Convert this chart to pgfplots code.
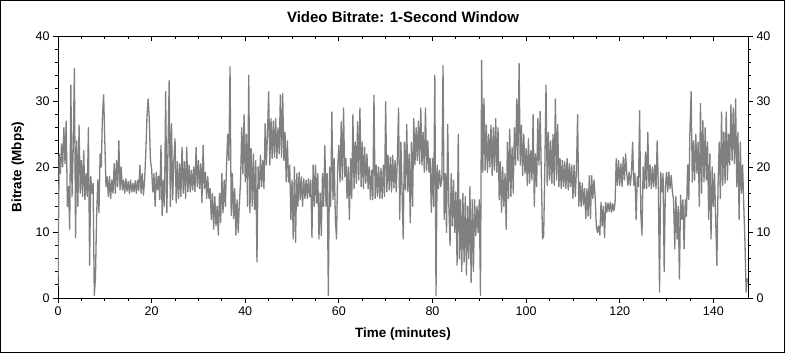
\documentclass[border=0pt]{standalone}
\usepackage{fontspec}
\setmainfont{Liberation Sans}
\usepackage{pgfplots}
\pgfplotsset{compat=1.18}
\begin{document}
\begin{tikzpicture}
\useasboundingbox (-58pt,-55pt) rectangle (727pt,298pt);
\draw[line width=1pt] (-57.5pt,-54.5pt) rectangle (726.5pt,297.5pt);
\pgfplotsset{common/.style={at={(0pt,0pt)}, anchor=south west, scale only axis,
  width=690pt, height=262pt, xmin=0, xmax=147.4, ymin=0, ymax=40,
  xtick={0,20,...,140}, ytick={0,10,...,40}, minor x tick num=3, minor y tick num=4,
  major tick length=5pt, minor tick length=3pt,
  ticklabel style={font=\fontsize{12.5}{14}\selectfont},
  /pgf/number format/assume math mode=true,
  axis line style={line width=0.8pt}, tick style={black, line width=0.8pt}}}
\begin{axis}[common, tick align=outside, xtick pos=bottom, ytick pos=left]
\addplot[color={rgb,255:red,128;green,128;blue,128}, line width=1.3pt, line join=round] coordinates {
(0,1.8)(0.25,22)(0.5,19)(0.75,23.5)
(1,20)(1.25,26)(1.5,20.5)(1.75,27)
(2,14)(2.25,17)(2.5,10.5)(2.75,32.5)
(3,15.5)(3.25,23)(3.5,35)(3.75,9.2)
(4,24)(4.25,14)(4.5,26.4)(4.75,16)
(5,21)(5.25,15.5)(5.5,22.5)(5.75,15)
(6,19)(6.25,15.5)(6.5,26)(6.75,5)
(7,18.6)(7.25,16)(7.5,17.5)(7.75,0.4)
(8,3)(8.25,12.5)(8.5,18)(8.75,13)
(9,22)(9.25,20)(9.5,28)(9.75,31)
(10,24)(10.25,17)(10.5,18.5)(10.75,15.5)
(11,18.6)(11.25,15.2)(11.5,18)(11.75,16)
(12,20.5)(12.25,16)(12.5,21)(12.75,17)
(13,24)(13.25,16.5)(13.5,20)(13.75,16.5)
(14,18)(14.25,16)(14.5,18.2)(14.75,16.3)
(15,17.8)(15.25,16)(15.5,18)(15.75,16.2)
(16,17.5)(16.25,16.2)(16.5,17.9)(16.75,16)
(17,18)(17.25,16.4)(17.5,20.3)(17.75,16)
(18,19)(18.25,15.7)(18.5,18)(18.75,22)
(19,27.5)(19.25,30.4)(19.5,27.4)(19.75,21)
(20,19.7)(20.25,16.2)(20.5,19)(20.75,14)
(21,19.2)(21.25,16.5)(21.5,18.6)(21.75,15)
(22,23.3)(22.25,12.6)(22.5,18)(22.75,14)
(23,31.5)(23.25,13)(23.5,22.8)(23.75,33.2)
(24,14)(24.25,26.6)(24.5,15)(24.75,21)
(25,24.3)(25.25,14.5)(25.5,20.8)(25.75,15.2)
(26,20.5)(26.25,15.5)(26.5,23)(26.75,16)
(27,20.8)(27.25,15.2)(27.5,23)(27.75,16.2)
(28,20.3)(28.25,16.2)(28.5,19.5)(28.75,16.5)
(29,20)(29.25,16.2)(29.5,23)(29.75,17)
(30,21)(30.25,16.7)(30.5,20.5)(30.75,14.5)
(31,23.3)(31.25,16.7)(31.5,19.2)(31.75,15.2)
(32,18.5)(32.25,15.2)(32.5,16.7)(32.75,12)
(33,16)(33.25,10.5)(33.5,15.5)(33.75,11)
(34,14)(34.25,9.6)(34.5,16)(34.75,11.5)
(35,19)(35.25,13)(35.5,18)(35.75,14)
(36,20)(36.25,25)(36.5,21)(36.75,35.3)
(37,12.6)(37.25,19)(37.5,12.1)(37.75,16.7)
(38,9.6)(38.25,15)(38.5,10)(38.75,14.5)
(39,17.7)(39.25,26)(39.5,19)(39.75,28)
(40,17.7)(40.25,25)(40.5,14)(40.75,34)
(41,13)(41.25,22.8)(41.5,14)(41.75,22)
(42,13.5)(42.25,21)(42.5,5.5)(42.75,20)
(43,16.7)(43.25,21.8)(43.5,17)(43.75,21)
(44,16.7)(44.25,26.6)(44.5,20.3)(44.75,25)
(45,31.5)(45.25,20.3)(45.5,27.4)(45.75,21.3)
(46,27)(46.25,21.5)(46.5,27.4)(46.75,21.3)
(47,26)(47.25,22)(47.5,31)(47.75,21.5)
(48,31.2)(48.25,21)(48.5,25.3)(48.75,17.7)
(49,24)(49.25,17.7)(49.5,20.3)(49.75,12)
(50,18)(50.25,9)(50.5,20)(50.75,8.5)
(51,19)(51.25,14)(51.5,19.2)(51.75,15)
(52,18.5)(52.25,14)(52.5,18.2)(52.75,15.2)
(53,18)(53.25,15.2)(53.5,18.2)(53.75,15.5)
(54,18)(54.25,9.2)(54.5,20.3)(54.75,14)
(55,20.3)(55.25,14.5)(55.5,19)(55.75,9)
(56,16)(56.25,9.5)(56.5,19)(56.75,14)
(57,23.3)(57.25,14)(57.5,19)(57.75,0.4)
(58,20)(58.25,14)(58.5,28.4)(58.75,15)
(59,21.3)(59.25,12)(59.5,9)(59.75,20)
(60,23.3)(60.25,17.7)(60.5,26.9)(60.75,18)
(61,29)(61.25,18.5)(61.5,21.3)(61.75,15.2)
(62,20)(62.25,12)(62.5,21.3)(62.75,15.2)
(63,28)(63.25,16.7)(63.5,23.8)(63.75,17.5)
(64,26.9)(64.25,18)(64.5,29)(64.75,17)
(65,23.8)(65.25,16.7)(65.5,23)(65.75,17.5)
(66,22)(66.25,16.7)(66.5,20)(66.75,15)
(67,19.5)(67.25,15)(67.5,31)(67.75,15.2)
(68,20.3)(68.25,15.5)(68.5,20)(68.75,15.2)
(69,19.8)(69.25,15.2)(69.5,20.3)(69.75,15.5)
(70,30)(70.25,16.2)(70.5,21.8)(70.75,16.5)
(71,21.5)(71.25,16.2)(71.5,21.8)(71.75,16.8)
(72,21)(72.25,16.2)(72.5,21.5)(72.75,29)
(73,12)(73.25,23.8)(73.5,16.2)(73.75,9)
(74,23.8)(74.25,16.5)(74.5,26.5)(74.75,16.2)
(75,22)(75.25,11.5)(75.5,23.8)(75.75,14)
(76,27.4)(76.25,20.3)(76.5,26)(76.75,21)
(77,27)(77.25,20.5)(77.5,29)(77.75,20.3)
(78,25.3)(78.25,19.2)(78.5,29)(78.75,19.5)
(79,24)(79.25,19.2)(79.5,21.3)(79.75,13.1)
(80,21.3)(80.25,14)(80.5,34)(80.75,0.4)
(81,20.3)(81.25,16.7)(81.5,19.5)(81.75,17)
(82,18)(82.25,35.5)(82.5,12)(82.75,19)
(83,10)(83.25,26.5)(83.5,14)(83.75,8)
(84,19)(84.25,11)(84.5,18)(84.75,10)
(85,16.2)(85.25,5)(85.5,25)(85.75,6)
(86,15)(86.25,4)(86.5,16)(86.75,5.5)
(87,15.5)(87.25,3.5)(87.5,14)(87.75,6)
(88,17)(88.25,2.4)(88.5,15)(88.75,4)
(89,15)(89.25,9.5)(89.5,14)(89.75,10)
(90,15)(90.25,0.4)(90.5,36.3)(90.75,19.2)
(91,30.4)(91.25,19.5)(91.5,26.4)(91.75,19.2)
(92,25)(92.25,20)(92.5,26.4)(92.75,18.7)
(93,26)(93.25,19.5)(93.5,27.4)(93.75,19.2)
(94,26)(94.25,15)(94.5,20.8)(94.75,13.1)
(95,20)(95.25,14)(95.5,19)(95.75,10.5)
(96,23.8)(96.25,15.2)(96.5,25.8)(96.75,15.5)
(97,23)(97.25,16)(97.5,26)(97.75,20.3)
(98,30.4)(98.25,21)(98.5,35.8)(98.75,20.3)
(99,26.4)(99.25,18.7)(99.5,25)(99.75,19)
(100,22.8)(100.25,17.2)(100.5,24.3)(100.75,17.5)
(101,22.5)(101.25,18)(101.5,28)(101.75,14)
(102,22)(102.25,17)(102.5,27.4)(102.75,20.3)
(103,28.5)(103.25,19)(103.5,9)(103.75,9.5)
(104,20)(104.25,32.5)(104.5,17.2)(104.75,25.3)
(105,18)(105.25,24)(105.5,17.5)(105.75,25)
(106,17.2)(106.25,30.4)(106.5,18)(106.75,26.5)
(107,17)(107.25,21.3)(107.5,16.7)(107.75,21)
(108,17)(108.25,20.8)(108.5,16.7)(108.75,21.3)
(109,16.5)(109.25,20.5)(109.5,17)(109.75,20.3)
(110,15.2)(110.25,20.3)(110.5,15.5)(110.75,19.5)
(111,28)(111.25,14)(111.5,17.7)(111.75,14)
(112,17.5)(112.25,14.2)(112.5,16.7)(112.75,12.1)
(113,16.7)(113.25,12.5)(113.5,18.7)(113.75,12.1)
(114,18.7)(114.25,15.2)(114.5,18)(114.75,15.5)
(115,11)(115.25,10)(115.5,11)(115.75,9.6)
(116,14.6)(116.25,11)(116.5,14)(116.75,9.2)
(117,14.6)(117.25,13.1)(117.5,14.5)(117.75,13.2)
(118,14.6)(118.25,13.1)(118.5,14.4)(118.75,13.3)
(119,14.5)(119.25,21.3)(119.5,17.2)(119.75,21)
(120,17.2)(120.25,20.5)(120.5,17)(120.75,21.5)
(121,18)(121.25,22)(121.5,19)(121.75,17.2)
(122,19.2)(122.25,17.2)(122.5,19)(122.75,23.8)
(123,17.2)(123.25,19)(123.5,12)(123.75,18.5)
(124,17)(124.25,28.6)(124.5,13)(124.75,9.6)
(125,20)(125.25,16.7)(125.5,22.3)(125.75,16.7)
(126,25.3)(126.25,17)(126.5,20.3)(126.75,16.7)
(127,20)(127.25,17)(127.5,20.3)(127.75,16.7)
(128,24)(128.25,17)(128.5,0.9)(128.75,19.2)
(129,16.2)(129.25,19)(129.5,4)(129.75,17)
(130,19.2)(130.25,16.2)(130.5,19.2)(130.75,16.7)
(131,18.7)(131.25,16.2)(131.5,15)(131.75,7.5)
(132,15.5)(132.25,9)(132.5,14)(132.75,2.9)
(133,15.7)(133.25,12)(133.5,15)(133.75,7.5)
(134,15)(134.25,12.5)(134.5,20.3)(134.75,15)
(135,25.8)(135.25,31.5)(135.5,17.7)(135.75,24)
(136,18)(136.25,25)(136.5,19)(136.75,23.8)
(137,14)(137.25,29.7)(137.5,16)(137.75,27.1)
(138,17.7)(138.25,26)(138.5,18)(138.75,23.8)
(139,12)(139.25,22)(139.5,9)(139.75,20)
(140,14)(140.25,19)(140.5,12)(140.75,5)
(141,17)(141.25,23.8)(141.5,15.2)(141.75,28.4)
(142,17.2)(142.25,25.3)(142.5,17.5)(142.75,28.4)
(143,18)(143.25,25)(143.5,20.3)(143.75,29.5)
(144,21)(144.25,29)(144.5,20.5)(144.75,30.4)
(145,17)(145.25,25.3)(145.5,12)(145.75,23.8)
(146,16)(146.25,20.3)(146.5,14)(146.75,8.5)
(147,0.9)(147.25,3)
};
\end{axis}
\begin{axis}[common, hide x axis, axis y line*=right, tick align=outside, yticklabel pos=right]
\end{axis}
\begin{axis}[common, hide y axis, axis x line*=top, tick align=inside, xticklabels={}]
\end{axis}
\node[font=\fontsize{15}{18}\selectfont\bfseries] at (345pt,281pt) {Video Bitrate: 1-Second Window};
\node[font=\fontsize{13.5}{16}\selectfont\bfseries] at (345pt,-36pt) {Time (minutes)};
\node[font=\fontsize{13.5}{16}\selectfont\bfseries, rotate=90] at (-40pt,131pt) {Bitrate (Mbps)};
\end{tikzpicture}
\end{document}
